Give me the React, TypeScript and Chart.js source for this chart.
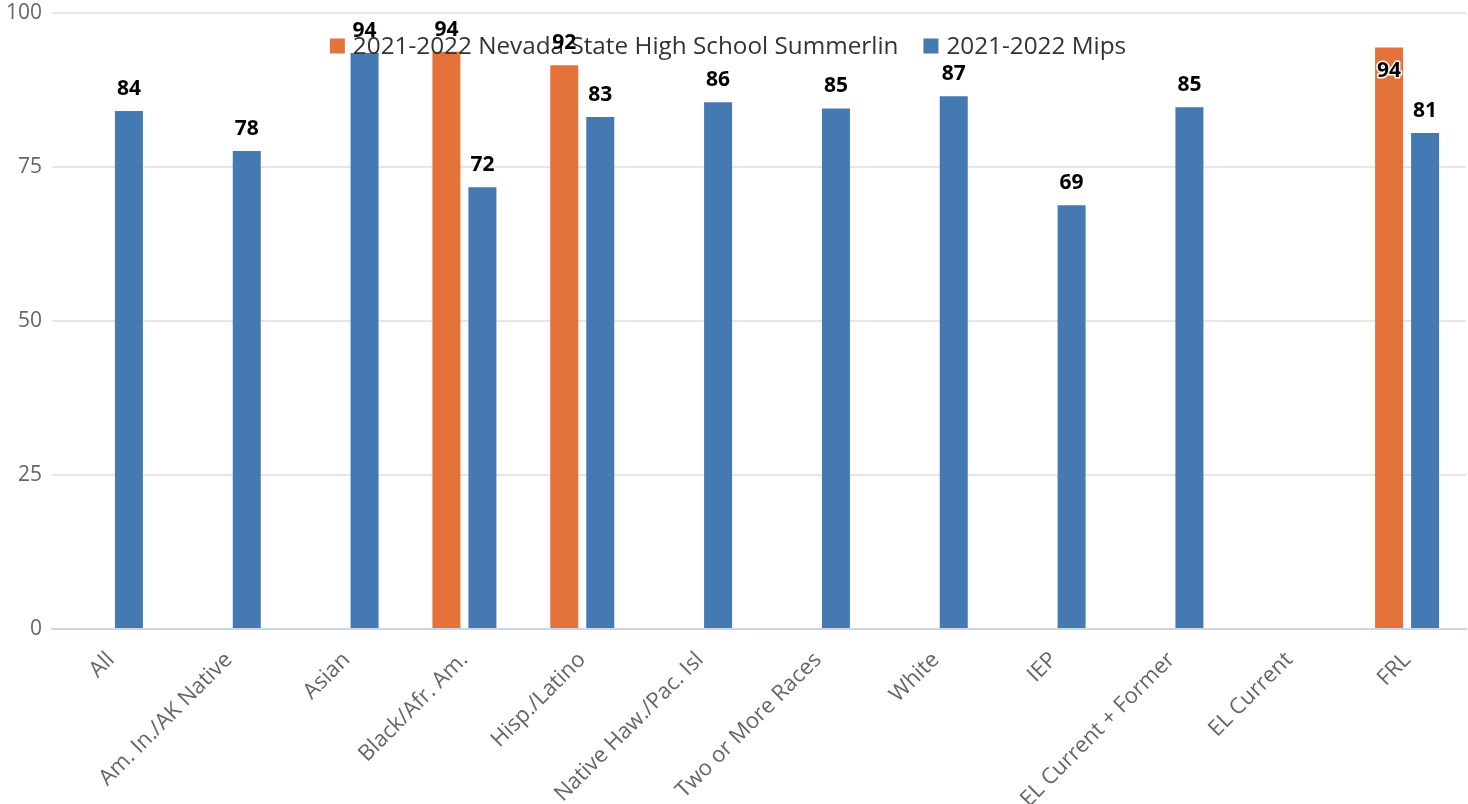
import React, { useEffect, useRef } from "react";
import { Chart, registerables } from "chart.js";

Chart.register(...registerables);

const categories = [
  "All",
  "Am. In./AK Native",
  "Asian",
  "Black/Afr. Am.",
  "Hisp./Latino",
  "Native Haw./Pac. Isl",
  "Two or More Races",
  "White",
  "IEP",
  "EL Current + Former",
  "EL Current",
  "FRL",
];

const seriesNames = ["2021-2022 Nevada State High School Summerlin", "2021-2022 Mips"];
const nevadaValues = [null, null, null, 93.7, 91.5, null, null, null, null, null, null, 94.4];
const mipsValues = [84.1, 77.6, 93.5, 71.7, 83.1, 85.5, 84.5, 86.5, 68.8, 84.7, null, 80.5];
const yTicks = [0, 25, 50, 75, 100];

const ORANGE = "#e4733a";
const BLUE = "#4579b2";
const FONT = "'Open Sans', sans-serif";

const legendAndLabels = {
  id: "legendAndLabels",
  afterDatasetsDraw(chart: any) {
    const ctx = chart.ctx;
    const area = chart.chartArea;
    // legend
    ctx.save();
    ctx.font = `24.3px ${FONT}`;
    const box = 15;
    const gapBoxText = 8;
    const itemGap = 25;
    const colors = [ORANGE, BLUE];
    const widths = seriesNames.map((n) => ctx.measureText(n).width);
    let total = 0;
    widths.forEach((w, i) => {
      total += box + gapBoxText + w + (i < widths.length - 1 ? itemGap : 0);
    });
    let x = chart.width / 2 - total / 2 - 6;
    const cy = 46;
    ctx.textBaseline = "middle";
    ctx.textAlign = "left";
    seriesNames.forEach((n, i) => {
      ctx.fillStyle = colors[i];
      ctx.fillRect(x, cy - box / 2, box, box);
      x += box + gapBoxText;
      ctx.fillStyle = "#333333";
      ctx.fillText(n, x, cy + 1);
      x += widths[i] + itemGap;
    });
    ctx.restore();

    // data labels
    ctx.save();
    ctx.font = `bold 21px ${FONT}`;
    ctx.textAlign = "center";
    ctx.textBaseline = "middle";
    chart.data.datasets.forEach((ds: any, di: number) => {
      const meta = chart.getDatasetMeta(di);
      meta.data.forEach((el: any, i: number) => {
        const v = ds.data[i];
        if (v === null || v === undefined) return;
        const txt = String(Math.round(v));
        let y = el.y - 22;
        const inside = y - 15 < area.top;
        if (inside) {
          y = el.y + 24;
          ctx.lineWidth = 3;
          ctx.strokeStyle = "#ffffff";
          ctx.lineJoin = "round";
          ctx.strokeText(txt, el.x, y);
        }
        ctx.fillStyle = "#000000";
        ctx.fillText(txt, el.x, y);
      });
    });
    ctx.restore();
  },
};

export default function App() {
  const ref = useRef<HTMLCanvasElement>(null);
  useEffect(() => {
    document.body.style.margin = "0";
    const chart = new Chart(ref.current!, {
      type: "bar",
      data: {
        labels: categories,
        datasets: [
          {
            label: seriesNames[0],
            data: nevadaValues,
            backgroundColor: ORANGE,
            categoryPercentage: 0.611,
            barPercentage: 0.778,
          },
          {
            label: seriesNames[1],
            data: mipsValues,
            backgroundColor: BLUE,
            categoryPercentage: 0.611,
            barPercentage: 0.778,
          },
        ] as any,
      },
      options: {
        animation: false,
        responsive: true,
        maintainAspectRatio: false,
        layout: { padding: { top: 0, right: 2, left: 0, bottom: 0 } },
        plugins: {
          legend: { display: false },
          tooltip: { enabled: false },
        },
        scales: {
          x: {
            grid: { display: false },
            border: { display: true, color: "#ccd6eb", width: 2 },
            ticks: {
              color: "#666666",
              font: { family: FONT, size: 22 },
              minRotation: 45,
              maxRotation: 45,
              autoSkip: false,
              padding: 10,
            },
            afterFit(scale: any) {
              scale.height = 175;
            },
          },
          y: {
            min: 0,
            max: 100,
            afterBuildTicks(scale: any) {
              scale.ticks = yTicks.map((v) => ({ value: v }));
            },
            grid: { color: "#e6e6e6", lineWidth: 2, drawTicks: false },
            border: { display: false },
            ticks: {
              color: "#666666",
              font: { family: FONT, size: 21 },
              padding: 10,
            },
            afterFit(scale: any) {
              scale.width = 52;
              scale.paddingTop = 13;
              scale.paddingBottom = 0;
            },
          },
        },
      },
      plugins: [legendAndLabels],
    });
    return () => chart.destroy();
  }, []);
  return (
    <div style={{ width: "1468px", height: "804px", position: "relative" }}>
      <canvas ref={ref} />
    </div>
  );
}
